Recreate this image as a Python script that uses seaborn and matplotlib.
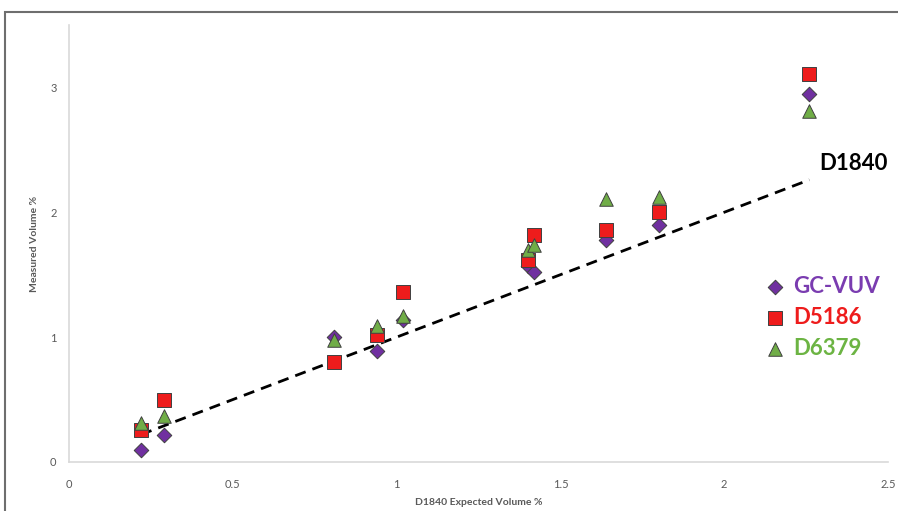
import pandas as pd
import seaborn as sns
import matplotlib.pyplot as plt
from matplotlib.patches import Rectangle

# expected volume % (D1840) and the measured values per method
expected = [0.22, 0.29, 0.81, 0.94, 1.02, 1.40, 1.42, 1.64, 1.80, 2.26]
gc_vuv = [0.10, 0.22, 1.00, 0.89, 1.14, 1.57, 1.52, 1.78, 1.90, 2.95]
d5186 = [0.26, 0.50, 0.80, 1.02, 1.36, 1.62, 1.82, 1.86, 2.00, 3.11]
d6379 = [0.31, 0.37, 0.98, 1.09, 1.17, 1.70, 1.74, 2.11, 2.12, 2.81]
d1840 = expected

series = ['GC-VUV', 'D5186', 'D6379']
colors = {'GC-VUV': '#7030A0', 'D5186': '#EE1C1C', 'D6379': '#70AD47'}
text_colors = {'GC-VUV': '#7A3CB0', 'D5186': '#EE1C1C', 'D6379': '#6CB443'}
markers = {'GC-VUV': 'D', 'D5186': 's', 'D6379': '^'}
sizes = {'GC-VUV': 55, 'D5186': 95, 'D6379': 95}

df = pd.DataFrame({'expected': expected, 'GC-VUV': gc_vuv, 'D5186': d5186, 'D6379': d6379})
long = df.melt(id_vars='expected', var_name='method', value_name='measured')

sns.set_style('white')
plt.rcParams['font.family'] = ['Lato', 'DejaVu Sans']

fig = plt.figure(figsize=(8.98, 5.11), dpi=100)
ax = fig.add_axes([69/898, 1-462/511, (888-69)/898, (462-25)/511])

sns.lineplot(x=expected, y=d1840, ax=ax, color='black', lw=2.0, dashes=(4, 2.6), zorder=2)

for name in series:
    sub = long[long['method'] == name]
    sns.scatterplot(data=sub, x='expected', y='measured', ax=ax, marker=markers[name],
                    s=sizes[name], color=colors[name], edgecolor='#404040', linewidth=0.7,
                    label=name, zorder=3)

ax.set_xlim(0, 2.5)
ax.set_ylim(0, 3.5)
ax.set_xticks([0, 0.5, 1, 1.5, 2, 2.5])
ax.set_xticklabels(['0', '0.5', '1', '1.5', '2', '2.5'])
ax.set_yticks([0, 1, 2, 3])
ax.tick_params(axis='x', length=0, pad=12, labelsize=8, labelcolor='#595959')
ax.tick_params(axis='y', length=0, pad=9, labelsize=8, labelcolor='#595959')
for sp in ['top', 'right']:
    ax.spines[sp].set_visible(False)
for sp in ['left', 'bottom']:
    ax.spines[sp].set_color('#d9d9d9')
    ax.spines[sp].set_linewidth(1.2)

ax.set_xlabel('D1840 Expected Volume %', fontsize=7.5, color='#595959', fontweight='bold', labelpad=6)
ax.set_ylabel('Measured Volume %', fontsize=7.5, color='#595959', fontweight='bold', labelpad=8)

ax.text(2.29, 2.39, 'D1840', fontsize=16, fontweight='bold', color='black', va='center', ha='left')

leg = ax.legend(loc='center left', bbox_to_anchor=(0.835, 0.33), frameon=False,
                prop={'size': 16, 'weight': 'bold'}, handletextpad=0.3, labelspacing=0.45,
                handlelength=1.0, borderpad=0)
for t, name in zip(leg.get_texts(), series):
    t.set_color(text_colors[name])

# outer frame of the picture
fig.patches.append(Rectangle((5/898, -0.1), 1.2, 1.1 - 12/511, transform=fig.transFigure,
                             fill=False, edgecolor='#6e6e6e', linewidth=1.5))

fig.savefig('out.png', dpi=100)
